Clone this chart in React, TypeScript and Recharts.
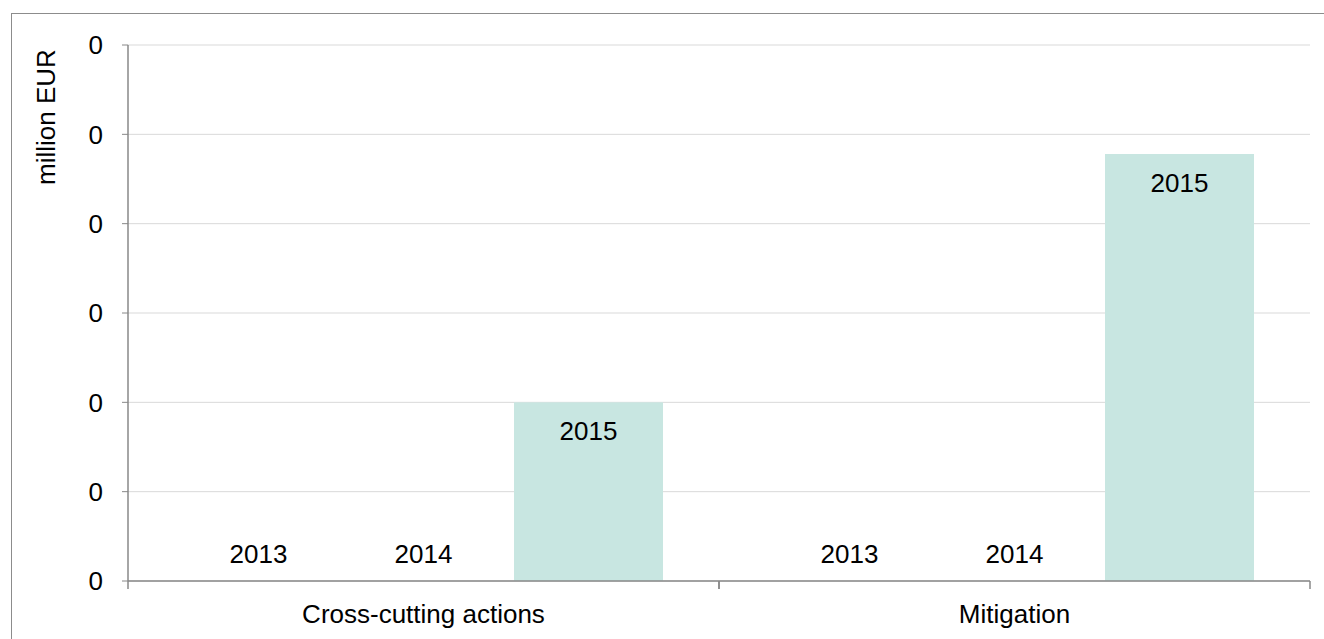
import React from "react";
import { Bar, BarChart, CartesianGrid, XAxis, YAxis } from "recharts";

// values (million EUR)
const categories = ["Cross-cutting actions", "Mitigation"];
const years = ["2013", "2014", "2015"];
const values2013 = [0, 0];
const values2014 = [0, 0];
const values2015 = [0.1, 0.239];
const yTicks = [0, 0.05, 0.1, 0.15, 0.2, 0.25, 0.3];

const data = categories.map((name, i) => ({
  name,
  "2013": values2013[i],
  "2014": values2014[i],
  "2015": values2015[i],
}));

const FONT = "'Liberation Sans', Arial, sans-serif";
const FONT_SIZE = 26;
const AXIS = "#888888";
const BAR = "#c8e6e1";

// bar with an Excel style "inside end" label showing the series name
const yearShape = (year: string) => (props: any) => {
  const { x, y, width, height, fill } = props;
  const h = Math.max(0, Number(height) || 0);
  const cx = Number(x) + Number(width) / 2;
  const top = Number(y);
  const baseline = h > 0 ? top + 38 : top - 18;
  return (
    <g>
      {h > 0 && <rect x={x} y={top} width={width} height={h} fill={fill} />}
      <text x={cx} y={baseline} textAnchor="middle" fontSize={FONT_SIZE} fontFamily={FONT} fill="#000">
        {year}
      </text>
    </g>
  );
};

// category label with tick marks on the band edges
const CategoryTick = (props: any) => {
  const { x, y, payload } = props;
  const half = payload && payload.offset ? payload.offset : 295.5;
  const axisY = y - 8;
  return (
    <g>
      <line x1={x - half} x2={x - half} y1={axisY} y2={axisY + 8} stroke={AXIS} strokeWidth={1.5} />
      <line x1={x + half} x2={x + half} y1={axisY} y2={axisY + 8} stroke={AXIS} strokeWidth={1.5} />
      <text x={x} y={axisY + 24} dy="0.71em" textAnchor="middle" fontSize={FONT_SIZE} fontFamily={FONT} fill="#000">
        {payload.value}
      </text>
    </g>
  );
};

const UnitLabel = (props: any) => {
  const { viewBox } = props;
  const x = viewBox.x - 22;
  const y = viewBox.y + 72;
  return (
    <text
      x={x}
      y={y}
      transform={`rotate(-90, ${x}, ${y})`}
      textAnchor="middle"
      dominantBaseline="central"
      fontSize={FONT_SIZE}
      fontFamily={FONT}
      fill="#000"
    >
      million EUR
    </text>
  );
};

export default function App() {
  return (
    <div style={{ position: "fixed", left: 0, top: 0, width: 1324, height: 639, overflow: "hidden", background: "#fff" }}>
      <div
        style={{
          position: "absolute",
          left: 11,
          top: 13,
          width: 1400,
          height: 700,
          border: "1px solid #8c8c8c",
        }}
      />
      <div style={{ position: "absolute", left: 0, top: 0 }}>
        <BarChart
          width={1324}
          height={639}
          data={data}
          margin={{ top: 45, right: 14, bottom: 0, left: 68 }}
          barCategoryGap={56}
          barGap={16}
        >
          <CartesianGrid vertical={false} stroke="#d9d9d9" />
          <XAxis
            dataKey="name"
            height={58}
            tickLine={false}
            axisLine={{ stroke: AXIS, strokeWidth: 1.5 }}
            tick={<CategoryTick />}
            interval={0}
          />
          <YAxis
            width={60}
            domain={[0, 0.3]}
            ticks={yTicks}
            tickFormatter={(v: number) => v.toFixed(0)}
            axisLine={{ stroke: AXIS, strokeWidth: 1.5 }}
            tickLine={{ stroke: AXIS }}
            tickSize={6}
            tickMargin={19}
            tick={{ fontSize: FONT_SIZE, fontFamily: FONT, fill: "#000" }}
            label={<UnitLabel />}
          />
          {years.map((year) => (
            <Bar key={year} dataKey={year} fill={BAR} isAnimationActive={false} shape={yearShape(year)} />
          ))}
        </BarChart>
      </div>
    </div>
  );
}
